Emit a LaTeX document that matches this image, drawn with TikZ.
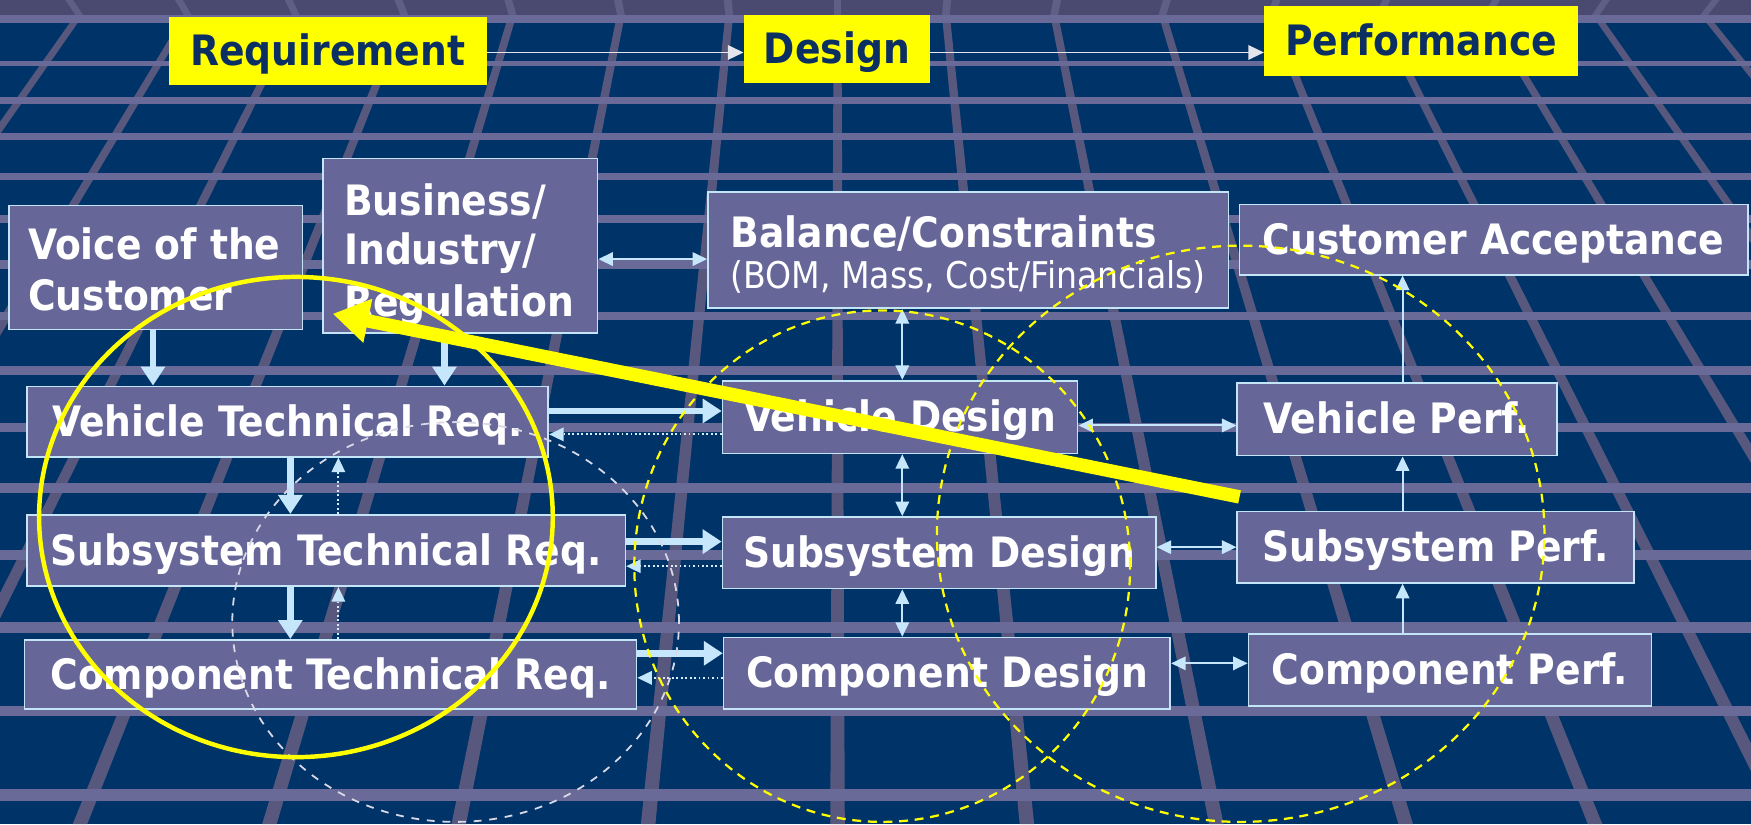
\documentclass[tikz,border=0pt]{standalone}
\usepackage{fontspec}
\setmainfont{DejaVu Sans Condensed}
\usetikzlibrary{arrows.meta}
\definecolor{bgnavy}{HTML}{003468}
\definecolor{bandc}{HTML}{4A4A70}
\definecolor{barc}{HTML}{6A6A98}
\definecolor{slantc}{HTML}{58587F}
\definecolor{slantband}{HTML}{5E5E86}
\definecolor{boxfill}{HTML}{666699}
\definecolor{boxedge}{HTML}{C4E4F8}
\definecolor{arrc}{HTML}{C6E7FB}
\definecolor{dotc}{HTML}{D6ECFA}
\definecolor{ttlyellow}{HTML}{FFFF00}
\definecolor{ttltext}{HTML}{0B2E63}
\definecolor{toparrc}{HTML}{E4E4EC}
\definecolor{wdash}{HTML}{D8D8E6}
\begin{document}
\begin{tikzpicture}[x=1pt,y=-1pt,
  box/.style={draw=boxedge, line width=1.5pt, fill=boxfill, inner sep=0pt},
  wl/.style={text=white, font=\bfseries\fontsize{37.5}{45}\selectfont, inner sep=0pt},
  wlone/.style={wl, text height=26pt, text depth=0pt},
  sub/.style={text=white, font=\fontsize{33}{40}\selectfont, inner sep=0pt},
  ttl/.style={fill=ttlyellow, inner sep=0pt, text=ttltext, font=\bfseries\fontsize{37.5}{45}\selectfont, text height=26pt, text depth=0pt},
  toparr/.style={draw=toparrc, line width=1.6pt, -{Triangle[length=14pt,width=13pt]}},
  thickarr/.style={draw=arrc, line width=6pt, -{Triangle[length=17pt,width=21pt]}},
  thinarr/.style={draw=arrc, line width=1.8pt, -{Triangle[length=13pt,width=12pt]}},
  dblarr/.style={draw=arrc, line width=1.8pt, {Triangle[length=13pt,width=12pt]}-{Triangle[length=13pt,width=12pt]}},
  dotarr/.style={draw=dotc, line width=1.8pt, dash pattern=on 1.6pt off 2.4pt, -{Triangle[length=13pt,width=12pt,color=arrc,fill=arrc]}},
  ydash/.style={draw=ttlyellow, line width=2pt, dash pattern=on 8pt off 6pt},
  wdashs/.style={draw=wdash, line width=1.6pt, dash pattern=on 7pt off 7pt},
]
\path[use as bounding box] (0,0) rectangle (1568,738);
\fill[bgnavy] (0,0) rectangle (1568,738);
% perspective floor grid
\begin{scope}
\clip (0,0) rectangle (1568,738);
\fill[bandc] (0,0) rectangle (1568,13.4);
\foreach \k in {-8,...,8}{
  \fill[slantc] ({750+97*\k-3.5},13.4) -- ({750+97*\k+3.5},13.4) -- ({750+169.6*\k+6.5},738) -- ({750+169.6*\k-6.5},738) -- cycle;
  \fill[slantband] ({750+97*\k-3.5},13.4) -- ({750+97*\k+3.5},13.4) -- ({750+98.3*\k+3.5},0) -- ({750+98.3*\k-3.5},0) -- cycle;
}
\foreach \yy/\tt in {17/7.2, 57/5, 90/5.5, 122/6, 158/6.5, 196/7, 237/7.5, 283/7.5, 332/8, 383/8.5, 437/9.5, 497/8.5, 562/9.5, 637/9, 712/10.5}{
  \fill[barc] (0,{\yy-\tt/2}) rectangle (1568,{\yy+\tt/2});
}
\end{scope}
% helper coordinates for connector lines
\coordinate (xa) at (137,0);
\coordinate (xb) at (398,0);
\coordinate (xc) at (260,0);
\coordinate (xd) at (303,0);
\coordinate (xe) at (808,0);
\coordinate (xf) at (1256,0);
\coordinate (ya) at (0,47);
\coordinate (yb) at (0,232);
\coordinate (yc) at (0,368);
\coordinate (yd) at (0,389);
\coordinate (ye) at (0,381);
\coordinate (yf) at (0,485);
\coordinate (yg) at (0,507);
\coordinate (yh) at (0,490);
\coordinate (yi) at (0,585);
\coordinate (yj) at (0,607);
\coordinate (yk) at (0,594);
% title row
\node[ttl, minimum width=285pt, minimum height=61pt] (req) at (293.5,45.5) {Requirement};
\node[ttl, minimum width=167pt, minimum height=61pt] (des) at (749.5,43.5) {Design};
\node[ttl, minimum width=281pt, minimum height=63pt] (perf) at (1272.5,36.5) {Performance};
\draw[toparr] (req.east |- ya) -- (des.west |- ya);
\draw[toparr] (des.east |- ya) -- (perf.west |- ya);
% boxes
\node[box, minimum width=263pt, minimum height=111pt] (voc) at (139.5,239.5) {};
\node[box, minimum width=246pt, minimum height=156pt] (bus) at (412,220) {};
\node[box, minimum width=466pt, minimum height=104pt] (bal) at (867,224) {};
\node[box, wlone, minimum width=455pt, minimum height=63pt] (cacc) at (1337.5,214.5) {Customer Acceptance};
\node[box, wlone, minimum width=467pt, minimum height=63pt] (vtr) at (257.5,377.5) {Vehicle Technical Req.};
\node[box, wlone, minimum width=318pt, minimum height=65pt] (vd) at (806,373.5) {Vehicle Design};
\node[box, wlone, minimum width=286pt, minimum height=65pt] (vp) at (1251,375.5) {Vehicle Perf.};
\node[box, wlone, minimum width=536pt, minimum height=64pt] (str) at (292,493) {Subsystem Technical Req.};
\node[box, wlone, minimum width=388pt, minimum height=64pt] (sd) at (841,495) {Subsystem Design};
\node[box, wlone, minimum width=355pt, minimum height=64pt] (sp) at (1285.5,490) {Subsystem Perf.};
\node[box, wlone, minimum width=548pt, minimum height=62pt] (ctr) at (296,604) {Component Technical Req.};
\node[box, wlone, minimum width=400pt, minimum height=64pt] (cd) at (848,603) {Component Design};
\node[box, wlone, minimum width=361pt, minimum height=64pt] (cp) at (1298.5,600) {Component Perf.};
\node[wl, anchor=base west] (voct1) at (25,232) {Voice of the};
\node[wl, anchor=base west] (voct2) at (25,278) {Customer};
\node[wl, anchor=base west] (bust1) at (308,193) {Business/};
\node[wl, anchor=base west] (bust2) at (308,237) {Industry/};
\node[wl, anchor=base west] (bust3) at (308,283) {Regulation};
\node[wl, anchor=base west] (balt1) at (654,222) {Balance/Constraints};
\node[sub, anchor=base west] (balt2) at (654,258) {(BOM, Mass, Cost/Financials)};
% connectors
\draw[thickarr] (voc.south -| xa) -- (vtr.north -| xa);
\draw[thickarr] (bus.south -| xb) -- (vtr.north -| xb);
\draw[thickarr] (vtr.south -| xc) -- (str.north -| xc);
\draw[thickarr] (str.south -| xc) -- (ctr.north -| xc);
\draw[dotarr] (str.north -| xd) -- (vtr.south -| xd);
\draw[dotarr] (ctr.north -| xd) -- (str.south -| xd);
\draw[thickarr] (vtr.east |- yc) -- (vd.west |- yc);
\draw[dotarr] (vd.west |- yd) -- (vtr.east |- yd);
\draw[thickarr] (str.east |- yf) -- (sd.west |- yf);
\draw[dotarr] (sd.west |- yg) -- (str.east |- yg);
\draw[thickarr] (ctr.east |- yi) -- (cd.west |- yi);
\draw[dotarr] (cd.west |- yj) -- (ctr.east |- yj);
\draw[dblarr] (bus.east |- yb) -- (bal.west |- yb);
\draw[dblarr] (bal.south -| xe) -- (vd.north -| xe);
\draw[dblarr] (vd.south -| xe) -- (sd.north -| xe);
\draw[dblarr] (sd.south -| xe) -- (cd.north -| xe);
\draw[dblarr] (vd.east |- ye) -- (vp.west |- ye);
\draw[dblarr] (sd.east |- yh) -- (sp.west |- yh);
\draw[dblarr] (cd.east |- yk) -- (cp.west |- yk);
\draw[thinarr] (cp.north -| xf) -- (sp.south -| xf);
\draw[thinarr] (sp.north -| xf) -- (vp.south -| xf);
\draw[thinarr] (vp.north -| xf) -- (cacc.south -| xf);
% loops
\draw[wdashs] (408,557) ellipse [x radius=200pt, y radius=179pt];
\draw[ydash] (790,507) ellipse [x radius=222pt, y radius=229pt];
\draw[ydash] (1111,478) ellipse [x radius=272pt, y radius=258pt];
\draw[draw=ttlyellow, line width=4pt] (265,463) ellipse [x radius=230pt, y radius=215pt];
% feedback arrow
\coordinate (ytail) at (1110,445);
\coordinate (ytip) at (298,281);
\draw[draw=ttlyellow, line width=12pt, -{Triangle[length=32pt,width=38pt]}] (ytail) -- (ytip);
\end{tikzpicture}
\end{document}
